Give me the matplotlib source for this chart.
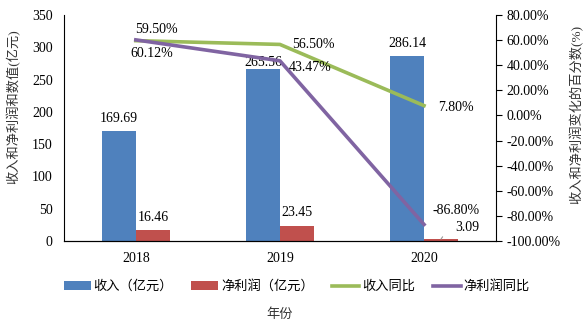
import matplotlib.pyplot as plt
import numpy as np

plt.rcParams['font.family'] = ['Liberation Serif', 'Noto Sans CJK SC']

years = ['2018', '2019', '2020']
revenue = [169.69, 265.56, 286.14]
profit = [16.46, 23.45, 3.09]
revenue_yoy = [59.50, 56.50, 7.80]
profit_yoy = [60.12, 43.47, -86.80]

blue = '#4F81BD'
red = '#C0504D'
green = '#9BBB59'
purple = '#8064A2'

fig = plt.figure(figsize=(5.85, 3.24), dpi=100)
ax = fig.add_axes([0.109, 0.256, 0.739, 0.698])
ax2 = ax.twinx()

x = np.arange(len(years))
w = 0.236
b1 = ax.bar(x - w / 2, revenue, w, color=blue, label='收入（亿元）')
b2 = ax.bar(x + w / 2, profit, w, color=red, label='净利润（亿元）')

ax.set_xlim(-0.5, 2.5)
ax.set_ylim(0, 350)
ax.set_yticks(range(0, 351, 50))
ax.set_xticks(x)
ax.set_xticklabels(years)
ax.tick_params(axis='y', length=0, labelsize=10, pad=8)
ax.tick_params(axis='x', length=0, labelsize=10, pad=8)
ax.spines['top'].set_visible(False)
ax.spines['right'].set_visible(False)
ax.set_ylabel('收入和净利润和数值(亿元)', fontsize=9.5, color='#333333')
ax.yaxis.set_label_coords(-0.1, 0.593)
ax.set_xlabel('年份', fontsize=9.5, color='#333333', labelpad=31)

l1, = ax2.plot(x, revenue_yoy, color=green, lw=2.6, label='收入同比')
l2, = ax2.plot(x, profit_yoy, color=purple, lw=2.6, label='净利润同比')
ax2.set_ylim(-100, 80)
ax2.set_yticks(range(-100, 81, 20))
ax2.set_yticklabels(['%.2f%%' % v for v in range(-100, 81, 20)])
ax2.tick_params(axis='y', length=4, labelsize=10, direction='out')
ax2.spines['top'].set_visible(False)
ax2.spines['left'].set_visible(False)
ax2.set_ylabel('收入和净利润变化的百分数(%)', fontsize=9.5, color='#333333')
ax2.yaxis.set_label_coords(1.168, 0.562)

fs = 10
# bar value labels
bar_dy = [9.4, 5, 9.4]
for i in range(3):
    ax.annotate('%.2f' % revenue[i], (x[i] - w / 2, revenue[i]), xytext=(0, bar_dy[i]),
                textcoords='offset points', ha='center', va='center', fontsize=fs)
for i in range(2):
    ax.annotate('%.2f' % profit[i], (x[i] + w / 2, profit[i]), xytext=(0, 9.4),
                textcoords='offset points', ha='center', va='center', fontsize=fs)
ax.annotate('%.2f' % profit[2], (x[2] + w / 2, profit[2]), xytext=(19, 8.6),
            textcoords='offset points', ha='center', va='center', fontsize=fs,
            arrowprops=dict(arrowstyle='-', color='#999999', lw=0.8,
                            connectionstyle='angle,angleA=0,angleB=55,rad=0',
                            shrinkA=10, shrinkB=0))

# line value labels
line_labels = [
    (revenue_yoy[0], 0, (15, 8)),
    (profit_yoy[0], 0, (11.5, -10)),
    (revenue_yoy[1], 1, (24, 0)),
    (profit_yoy[1], 1, (22, -4.5)),
    (revenue_yoy[2], 2, (23, -1)),
    (profit_yoy[2], 2, (23, 10)),
]
for v, i, off in line_labels:
    ax2.annotate('%.2f%%' % v, (x[i], v), xytext=off,
                 textcoords='offset points', ha='center', va='center', fontsize=fs)

handles = [b1, b2, l1, l2]
fig.legend(handles, [h.get_label() for h in handles], loc='center',
           bbox_to_anchor=(0.507, 0.115), ncol=4, frameon=False, fontsize=9.5,
           handlelength=2.05, handleheight=0.6, columnspacing=1.4, handletextpad=0.2)

fig.savefig('out.png', dpi=100)
